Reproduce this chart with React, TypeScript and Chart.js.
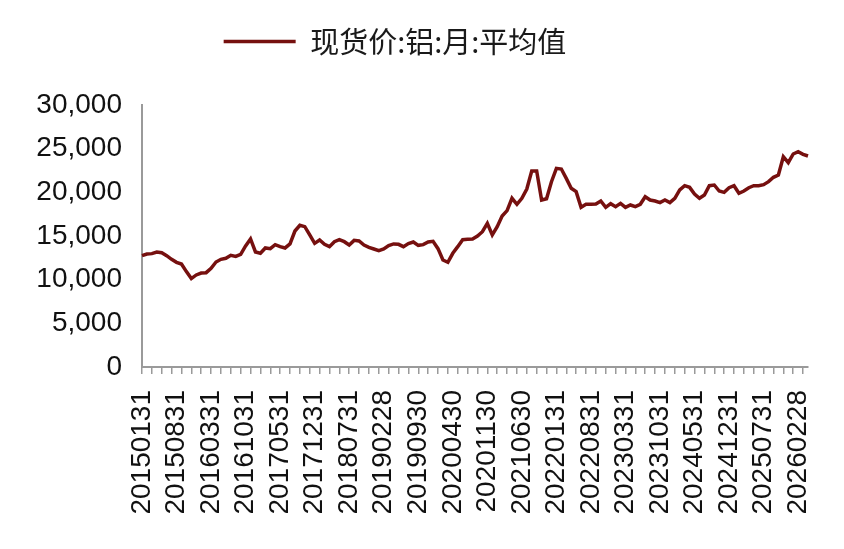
import { useEffect, useRef } from 'react'
import { Chart, registerables } from 'chart.js'

Chart.register(...registerables)

const SERIES_LABEL = '现货价:铝:月:平均值'
const LINE_COLOR = '#76100f'
const AXIS_COLOR = '#9a9a9a'

// first month of the series and number of monthly points
const START_YEAR = 2015
const MONTH_COUNT = 136

// month-end dates as yyyymmdd, 20150131 ... 20260430
function monthEnds(startYear: number, count: number): string[] {
  const out: string[] = []
  for (let i = 0; i < count; i++) {
    const y = startYear + Math.floor(i / 12)
    const m = i % 12
    const d = new Date(y, m + 1, 0).getDate()
    out.push(`${y}${String(m + 1).padStart(2, '0')}${String(d).padStart(2, '0')}`)
  }
  return out
}

const categories = monthEnds(START_YEAR, MONTH_COUNT)

// labels printed under the axis
const tickLabels = [
  '20150131', '20150831', '20160331', '20161031', '20170531',
  '20171231', '20180731', '20190228', '20190930', '20200430',
  '20201130', '20210630', '20220131', '20220831', '20230331',
  '20231031', '20240531', '20241231', '20250731', '20260228',
]

// yuan/ton
const prices2015to2017 = [
  12750, 12940, 12980, 13170, 13090, 12750, 12330, 11990, 11790, 10920, 10120, 10540,
  10760, 10800, 11300, 12020, 12330, 12450, 12790, 12670, 12900, 13860, 14660, 13170,
  13020, 13630, 13550, 14010, 13780, 13630, 14090, 15570, 16220, 16070, 15120, 14160,
]
const prices2018to2020 = [
  14540, 14050, 13780, 14350, 14580, 14350, 13970, 14500, 14430, 13970, 13700, 13510,
  13320, 13510, 13900, 14090, 14050, 13780, 14130, 14310, 13930, 14010, 14310, 14390,
  13550, 12250, 11990, 13020, 13780, 14580, 14620, 14660, 15000, 15490, 16450, 15120,
]
const prices2021to2023 = [
  16070, 17290, 17900, 19320, 18630, 19320, 20380, 22440, 22440, 19120, 19270, 21220,
  22750, 22670, 21600, 20460, 20080, 18280, 18630, 18630, 18660, 19010, 18280, 18700,
  18360, 18740, 18280, 18550, 18360, 18630, 19500, 19120, 19010, 18820, 19120, 18820,
]
const prices2024to2026 = [
  19320, 20270, 20760, 20570, 19810, 19320, 19700, 20760, 20840, 20150, 20000, 20530,
  20760, 19890, 20150, 20530, 20760, 20760, 20880, 21220, 21720, 21980, 24080, 23390,
  24390, 24650, 24350, 24160,
]
const prices = [...prices2015to2017, ...prices2018to2020, ...prices2021to2023, ...prices2024to2026]

const Y_MIN = 0
const Y_MAX = 30000
const Y_STEP = 5000

// the legend sits near the top edge and a bit left of centre in the source image,
// while the plot starts much lower, so move the legend box after layout
const LEGEND_TOP = 17
const legendNudge = {
  id: 'legendNudge',
  afterLayout(chart: Chart) {
    const lg = chart.legend
    if (!lg) return
    const dy = LEGEND_TOP - lg.top
    lg.top += dy
    lg.bottom += dy
    lg.left -= 18
  },
}

export default function App() {
  const canvasRef = useRef<HTMLCanvasElement>(null)

  useEffect(() => {
    document.body.style.margin = '0'
    if (!canvasRef.current) return

    const chart = new Chart(canvasRef.current, {
      type: 'line',
      data: {
        labels: categories,
        datasets: [
          {
            label: SERIES_LABEL,
            data: prices,
            borderColor: LINE_COLOR,
            backgroundColor: LINE_COLOR,
            borderWidth: 3.5,
            pointRadius: 0,
            tension: 0,
            fill: false,
          },
        ],
      },
      options: {
        animation: false,
        responsive: true,
        maintainAspectRatio: false,
        layout: { padding: { top: 17, right: 36, bottom: 0, left: 0 } },
        plugins: {
          tooltip: { enabled: false },
          legend: {
            position: 'top',
            labels: {
              usePointStyle: true,
              pointStyle: 'line',
              pointStyleWidth: 72,
              padding: 10,
              color: '#1a1a1a',
              font: { family: '"Noto Sans CJK SC", sans-serif', size: 29 },
            },
          },
        },
        scales: {
          x: {
            type: 'category',
            offset: false,
            afterFit: (scale) => {
              scale.height = 182
              scale.paddingLeft = 0
              scale.paddingRight = 0
            },
            border: { display: true, color: AXIS_COLOR, width: 2 },
            grid: {
              display: true,
              drawOnChartArea: false,
              drawTicks: true,
              tickLength: 7,
              lineWidth: 1.5,
              color: (ctx) => (ctx.index % 2 === 0 ? AXIS_COLOR : 'rgba(0,0,0,0)'),
            },
            ticks: {
              autoSkip: false,
              minRotation: 90,
              maxRotation: 90,
              padding: 16,
              color: '#111',
              font: { family: '"Liberation Sans", Arial, sans-serif', size: 28 },
              callback: (_v, i) => (tickLabels.includes(categories[i]) ? categories[i] : ''),
            },
          },
          y: {
            min: Y_MIN,
            max: Y_MAX,
            afterFit: (scale) => {
              scale.width = 142
              scale.paddingTop = 105
            },
            border: { display: true, color: AXIS_COLOR, width: 2 },
            grid: { display: false, drawTicks: false },
            ticks: {
              stepSize: Y_STEP,
              padding: 20,
              color: '#111',
              font: { family: '"Liberation Sans", Arial, sans-serif', size: 28 },
              callback: (v) => Number(v).toLocaleString('en-US'),
            },
          },
        },
      },
      plugins: [legendNudge],
    })

    return () => { chart.destroy() }
  }, [])

  return (
    <div style={{ position: 'relative', width: 844, height: 549 }}>
      <canvas ref={canvasRef} />
    </div>
  )
}
